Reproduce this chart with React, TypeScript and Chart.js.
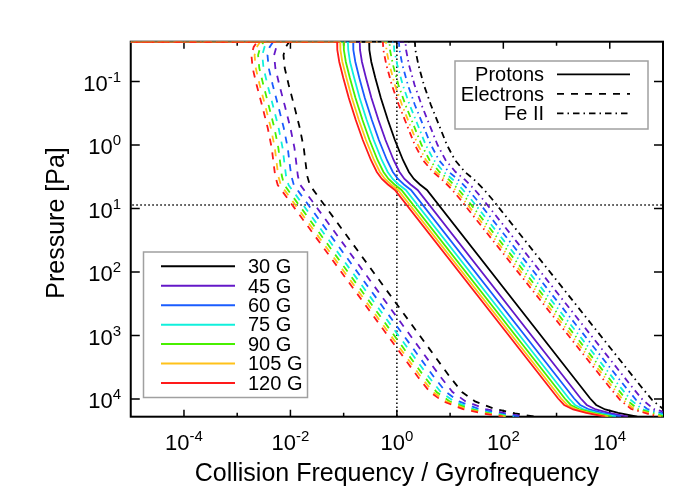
import React, { useEffect, useRef } from 'react';
import { Chart, registerables } from 'chart.js';

Chart.register(...registerables);

// ---------- data ----------
const FIELDS = ['30 G', '45 G', '60 G', '75 G', '90 G', '105 G', '120 G'];
const FIELD_COLORS = ['#000000', '#6418c8', '#1a5cff', '#10f0dc', '#48f000', '#ffc21a', '#ff1a1a'];

const SPECIES = ['Protons', 'Electrons', 'Fe II'];
const SPECIES_DASH = [[], [7, 7], [6.5, 4, 1.5, 4]];

// Pressure [Pa] sampled along each curve (shared by every field strength of a species)
const P_PROTON = [0.0236, 0.0236, 0.0319, 0.0493, 0.0881, 0.182, 0.404, 0.834, 1.72, 2.66, 3.43, 4.19, 5.11, 9820, 12400, 14600, 16600, 19000];
const X_PROTON_30 = [1e-6, 0.301, 0.304, 0.331, 0.394, 0.5, 0.677, 0.917, 1.3, 1.68, 2.09, 2.71, 3.67, 4280, 5550, 8190, 14400, 32800];
const X_PROTON_45 = [1e-6, 0.201, 0.203, 0.221, 0.263, 0.333, 0.451, 0.611, 0.867, 1.12, 1.39, 1.81, 2.45, 2850, 3700, 5460, 9600, 21900];
const X_PROTON_60 = [1e-6, 0.151, 0.152, 0.166, 0.197, 0.25, 0.339, 0.459, 0.65, 0.84, 1.05, 1.36, 1.84, 2140, 2780, 4100, 7200, 16400];
const X_PROTON_75 = [1e-6, 0.12, 0.122, 0.132, 0.158, 0.2, 0.271, 0.367, 0.52, 0.672, 0.836, 1.08, 1.47, 1710, 2220, 3280, 5760, 13100];
const X_PROTON_90 = [1e-6, 0.1, 0.101, 0.11, 0.131, 0.167, 0.226, 0.306, 0.433, 0.56, 0.697, 0.903, 1.22, 1430, 1850, 2730, 4800, 10900];
const X_PROTON_105 = [1e-6, 0.086, 0.0869, 0.0946, 0.113, 0.143, 0.193, 0.262, 0.371, 0.48, 0.597, 0.774, 1.05, 1220, 1590, 2340, 4110, 9370];
const X_PROTON_120 = [1e-6, 0.0753, 0.076, 0.0828, 0.0985, 0.125, 0.169, 0.229, 0.325, 0.42, 0.523, 0.678, 0.918, 1070, 1390, 2050, 3600, 8200];

const P_ELECTRON = [0.0236, 0.0236, 0.0286, 0.0383, 0.0613, 0.1135, 0.243, 0.54, 1.11, 2.14, 3.08, 4.27, 4500, 7760, 10900, 14400, 16900, 19000];
const X_ELECTRON_30 = [1e-6, 0.00949, 0.00816, 0.00741, 0.00781, 0.00929, 0.0118, 0.015, 0.0178, 0.0196, 0.0207, 0.0231, 9.94, 16.7, 29.4, 69.8, 166, 394];
const X_ELECTRON_45 = [1e-6, 0.00633, 0.00544, 0.00494, 0.00521, 0.00619, 0.00787, 0.01, 0.0119, 0.0131, 0.0138, 0.0154, 6.63, 11.1, 19.6, 46.5, 111, 263];
const X_ELECTRON_60 = [1e-6, 0.00475, 0.00408, 0.00371, 0.00391, 0.00465, 0.0059, 0.0075, 0.0089, 0.0098, 0.0104, 0.0116, 4.97, 8.35, 14.7, 34.9, 83, 197];
const X_ELECTRON_75 = [1e-6, 0.0038, 0.00326, 0.00296, 0.00312, 0.00372, 0.00472, 0.006, 0.00712, 0.00784, 0.00828, 0.00924, 3.98, 6.68, 11.8, 27.9, 66.4, 158];
const X_ELECTRON_90 = [1e-6, 0.00316, 0.00272, 0.00247, 0.0026, 0.0031, 0.00393, 0.005, 0.00593, 0.00653, 0.0069, 0.0077, 3.31, 5.57, 9.8, 23.3, 55.3, 131];
const X_ELECTRON_105 = [1e-6, 0.00271, 0.00233, 0.00212, 0.00223, 0.00265, 0.00337, 0.00429, 0.00509, 0.0056, 0.00591, 0.0066, 2.84, 4.77, 8.4, 19.9, 47.4, 113];
const X_ELECTRON_120 = [1e-6, 0.00237, 0.00204, 0.00185, 0.00195, 0.00232, 0.00295, 0.00375, 0.00445, 0.0049, 0.00518, 0.00578, 2.49, 4.18, 7.35, 17.5, 41.5, 98.5];

const P_FE = [0.0236, 0.0236, 0.0319, 0.055, 0.1135, 0.234, 0.484, 1.0, 1.72, 2.66, 3.49, 4.84, 7.08, 6130, 10400, 14400, 19000];
const X_FE_30 = [1e-6, 2.18, 2.23, 2.54, 3.22, 4.36, 6.17, 8.73, 12.3, 19.0, 28.1, 41.5, 61.3, 37300, 62800, 101000, 326000];
const X_FE_45 = [1e-6, 1.45, 1.49, 1.69, 2.15, 2.91, 4.11, 5.82, 8.2, 12.7, 18.7, 27.7, 40.9, 24900, 41900, 67300, 217000];
const X_FE_60 = [1e-6, 1.09, 1.12, 1.27, 1.61, 2.18, 3.09, 4.37, 6.15, 9.5, 14.1, 20.8, 30.7, 18700, 31400, 50500, 163000];
const X_FE_75 = [1e-6, 0.872, 0.892, 1.02, 1.29, 1.74, 2.47, 3.49, 4.92, 7.6, 11.2, 16.6, 24.5, 14900, 25100, 40400, 130000];
const X_FE_90 = [1e-6, 0.727, 0.743, 0.847, 1.07, 1.45, 2.06, 2.91, 4.1, 6.33, 9.37, 13.8, 20.4, 12400, 20900, 33700, 109000];
const X_FE_105 = [1e-6, 0.623, 0.637, 0.726, 0.92, 1.25, 1.76, 2.49, 3.51, 5.43, 8.03, 11.9, 17.5, 10700, 17900, 28900, 93100];
const X_FE_120 = [1e-6, 0.545, 0.558, 0.635, 0.805, 1.09, 1.54, 2.18, 3.08, 4.75, 7.03, 10.4, 15.3, 9330, 15700, 25300, 81500];

const SPECIES_P = [P_PROTON, P_ELECTRON, P_FE];
const SPECIES_X = [
  [X_PROTON_30, X_PROTON_45, X_PROTON_60, X_PROTON_75, X_PROTON_90, X_PROTON_105, X_PROTON_120],
  [X_ELECTRON_30, X_ELECTRON_45, X_ELECTRON_60, X_ELECTRON_75, X_ELECTRON_90, X_ELECTRON_105, X_ELECTRON_120],
  [X_FE_30, X_FE_45, X_FE_60, X_FE_75, X_FE_90, X_FE_105, X_FE_120],
];

// reference dotted lines
const REF_LINE_P = 8.8; // horizontal, Pa
const REF_LINE_X = 1; // vertical, ratio

// axes
const X_MIN = 1e-5;
const X_MAX = 1e5;
const Y_MIN = 0.0236;
const Y_MAX = 19000;
const X_TICK_EXP = [-4, -3, -2, -1, 0, 1, 2, 3, 4];
const X_LABEL_EXP = [-4, -2, 0, 2, 4];
const Y_TICK_EXP = [-1, 0, 1, 2, 3, 4];
const X_TITLE = 'Collision Frequency / Gyrofrequency';
const Y_TITLE = 'Pressure [Pa]';

const FONT = '"Liberation Sans", Arial, Helvetica, sans-serif';

const decorPlugin = {
  id: 'decor',
  beforeDatasetsDraw(chart: any) {
    const { ctx, chartArea: a, scales } = chart;
    ctx.save();
    ctx.strokeStyle = '#000';
    ctx.lineWidth = 2;
    ctx.strokeRect(a.left, a.top, a.right - a.left, a.bottom - a.top);
    ctx.lineWidth = 1.5;
    ctx.beginPath();
    X_TICK_EXP.forEach((e) => {
      const x = scales.x.getPixelForValue(Math.pow(10, e));
      const len = X_LABEL_EXP.includes(e) ? 7 : 4;
      ctx.moveTo(x, a.bottom);
      ctx.lineTo(x, a.bottom - len);
      ctx.moveTo(x, a.top);
      ctx.lineTo(x, a.top + len);
    });
    Y_TICK_EXP.forEach((e) => {
      const y = scales.y.getPixelForValue(Math.pow(10, e));
      ctx.moveTo(a.left, y);
      ctx.lineTo(a.left + 9, y);
      ctx.moveTo(a.right, y);
      ctx.lineTo(a.right - 9, y);
    });
    ctx.stroke();
    ctx.restore();
  },
  afterDatasetsDraw(chart: any) {
    const { ctx, chartArea: a, scales } = chart;
    ctx.save();
    ctx.fillStyle = '#000';
    ctx.textBaseline = 'alphabetic';
    const mainFont = `22px ${FONT}`;
    const supFont = `15px ${FONT}`;

    // x tick labels
    X_LABEL_EXP.forEach((e) => {
      const x = scales.x.getPixelForValue(Math.pow(10, e));
      ctx.font = mainFont;
      const w1 = ctx.measureText('10').width;
      ctx.font = supFont;
      const w2 = ctx.measureText(String(e)).width;
      const x0 = x - (w1 + w2) / 2;
      ctx.textAlign = 'left';
      ctx.font = mainFont;
      ctx.fillText('10', x0, 450);
      ctx.font = supFont;
      ctx.fillText(String(e), x0 + w1, 441);
    });
    // y tick labels
    Y_TICK_EXP.forEach((e) => {
      const y = scales.y.getPixelForValue(Math.pow(10, e));
      ctx.font = supFont;
      const w2 = ctx.measureText(String(e)).width;
      ctx.textAlign = 'right';
      ctx.fillText(String(e), 121, y);
      ctx.font = mainFont;
      ctx.fillText('10', 121 - w2, y + 9);
    });

    // axis titles
    ctx.font = `25px ${FONT}`;
    ctx.textAlign = 'center';
    ctx.fillText(X_TITLE, (a.left + a.right) / 2, 481);
    ctx.save();
    ctx.translate(64, 223);
    ctx.rotate(-Math.PI / 2);
    ctx.fillText(Y_TITLE, 0, 0);
    ctx.restore();

    // species legend (top right)
    ctx.fillStyle = '#fff';
    ctx.fillRect(455, 61, 193, 68);
    ctx.strokeStyle = '#a0a0a0';
    ctx.lineWidth = 1.5;
    ctx.strokeRect(455, 61, 193, 68);
    ctx.font = `20px ${FONT}`;
    ctx.textAlign = 'right';
    SPECIES.forEach((s, i) => {
      const yl = 74.3 + i * 19.5;
      ctx.fillStyle = '#000';
      ctx.fillText(s, 544, yl + 6.8);
      ctx.strokeStyle = '#000';
      ctx.lineWidth = 1.8;
      ctx.setLineDash(SPECIES_DASH[i]);
      ctx.beginPath();
      ctx.moveTo(557, yl);
      ctx.lineTo(630, yl);
      ctx.stroke();
      ctx.setLineDash([]);
    });

    // field legend (bottom left)
    ctx.fillStyle = '#fff';
    ctx.fillRect(143.5, 252, 164, 145.5);
    ctx.strokeStyle = '#a0a0a0';
    ctx.lineWidth = 1.5;
    ctx.strokeRect(143.5, 252, 164, 145.5);
    ctx.textAlign = 'left';
    FIELDS.forEach((f, i) => {
      const yl = 266.3 + i * 19.45;
      ctx.strokeStyle = FIELD_COLORS[i];
      ctx.lineWidth = 2;
      ctx.beginPath();
      ctx.moveTo(161, yl);
      ctx.lineTo(235, yl);
      ctx.stroke();
      ctx.fillStyle = '#000';
      ctx.fillText(f, 248, yl + 6.8);
    });
    ctx.restore();
  },
};

export default function App() {
  const ref = useRef<HTMLCanvasElement | null>(null);
  useEffect(() => {
    if (!ref.current) return;
    const datasets: any[] = [];
    // paint order: field strength outer loop, species inner loop (120 G painted last)
    FIELDS.forEach((f, fi) => {
      SPECIES.forEach((s, si) => {
        const xs = SPECIES_X[si][fi];
        const ps = SPECIES_P[si];
        const paint = fi * SPECIES.length + si;
        datasets.push({
          label: `${s} ${f}`,
          data: xs.map((x, k) => ({ x, y: ps[k] })),
          borderColor: FIELD_COLORS[fi],
          borderWidth: 1.8,
          borderDash: SPECIES_DASH[si],
          pointRadius: 0,
          tension: 0,
          fill: false,
          order: -paint,
        });
      });
    });
    datasets.push({
      label: 'ref-h',
      data: [{ x: 1e-7, y: REF_LINE_P }, { x: 1e7, y: REF_LINE_P }],
      borderColor: '#000',
      borderWidth: 1.5,
      borderDash: [1.5, 2.5],
      pointRadius: 0,
      order: 100,
    });
    datasets.push({
      label: 'ref-v',
      data: [{ x: REF_LINE_X, y: 1e-3 }, { x: REF_LINE_X, y: 1e6 }],
      borderColor: '#000',
      borderWidth: 1.5,
      borderDash: [1.5, 2.5],
      pointRadius: 0,
      order: 101,
    });

    const chart = new Chart(ref.current, {
      type: 'scatter',
      data: { datasets },
      options: {
        animation: false,
        responsive: false,
        devicePixelRatio: 1,
        showLine: true,
        layout: { padding: { left: 130.75, right: 37, top: 41.7, bottom: 83.3 } },
        plugins: { legend: { display: false }, tooltip: { enabled: false } },
        elements: { line: { tension: 0 } },
        scales: {
          x: { type: 'logarithmic', min: X_MIN, max: X_MAX, display: false },
          y: { type: 'logarithmic', min: Y_MIN, max: Y_MAX, reverse: true, display: false },
        },
      } as any,
      plugins: [decorPlugin],
    });
    return () => chart.destroy();
  }, []);
  return (
    <div style={{ position: 'fixed', left: 0, top: 0, width: 700, height: 500, background: '#fff' }}>
      <canvas ref={ref} width={700} height={500} />
    </div>
  );
}
